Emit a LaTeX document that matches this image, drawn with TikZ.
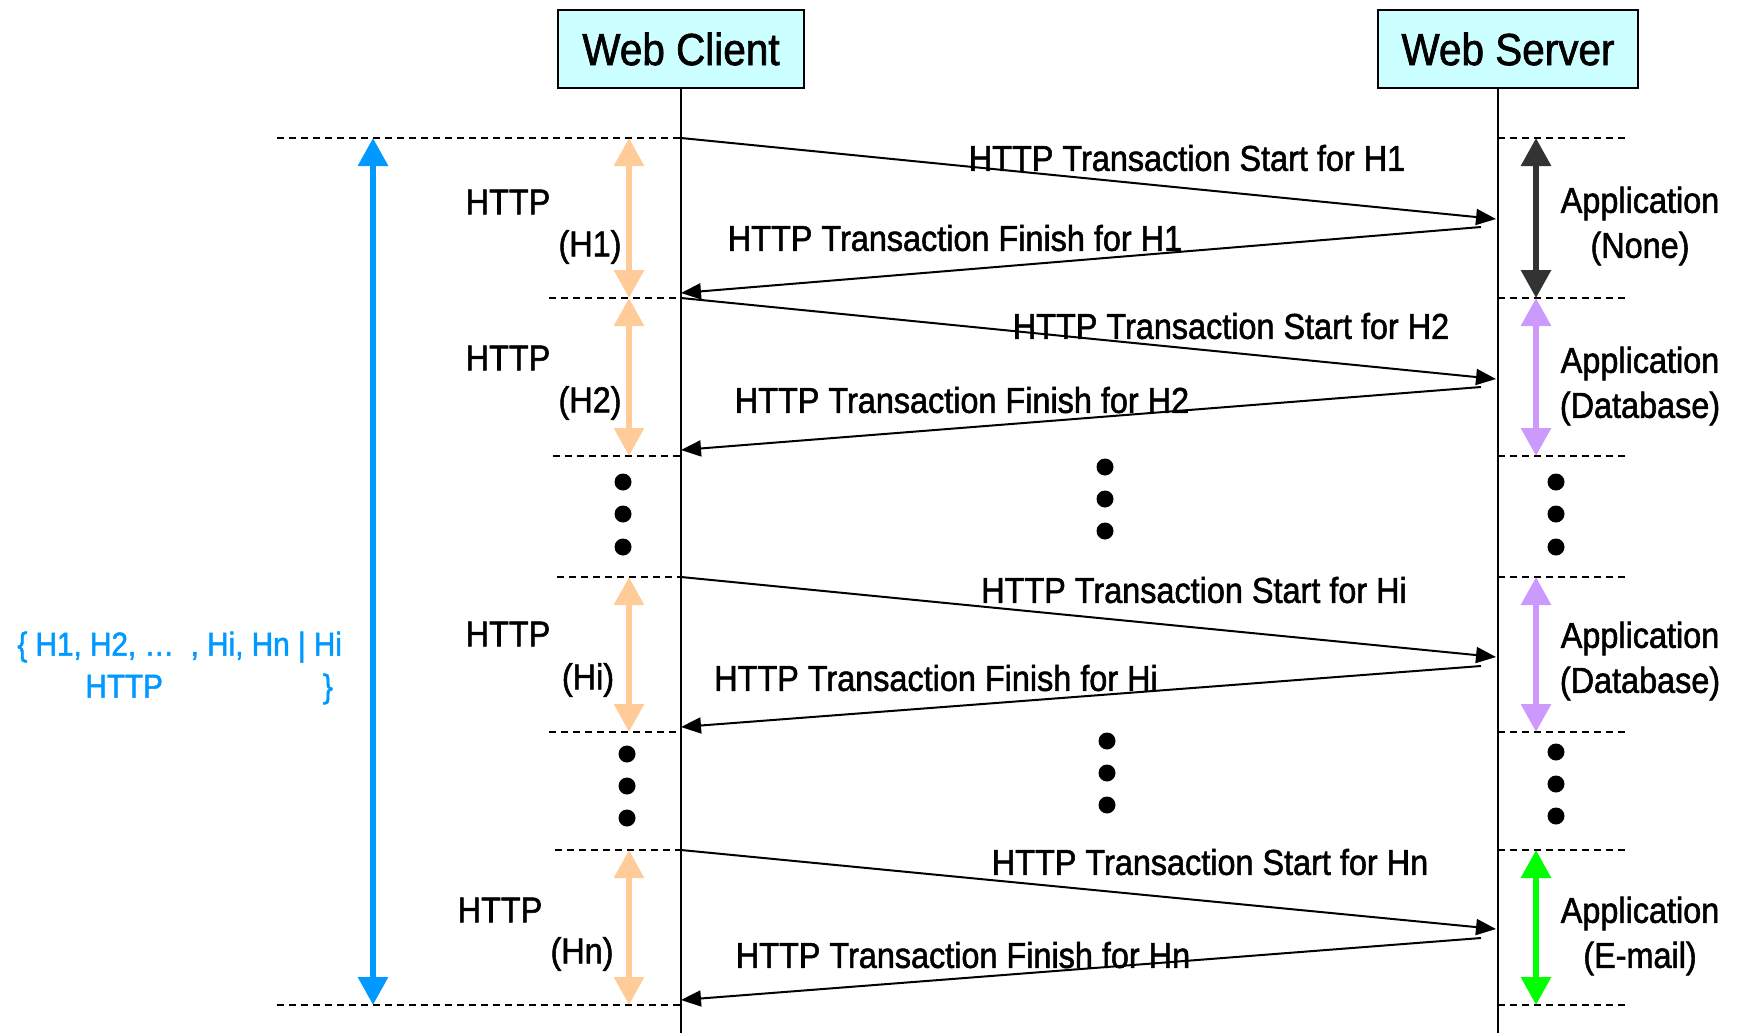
\documentclass[tikz,border=0pt]{standalone}
\usepackage{fontspec}
\setmainfont{Liberation Sans}[FakeStretch=0.9, FakeBold=1.5]
\usetikzlibrary{arrows.meta}
\definecolor{boxcyan}{HTML}{CCFFFF}
\definecolor{peach}{HTML}{FFCC99}
\definecolor{lilac}{HTML}{CC99FF}
\definecolor{skyblue}{HTML}{0099FF}
\definecolor{darkgrey}{HTML}{333333}
\definecolor{brightgreen}{HTML}{00FF00}

\begin{document}
\begin{tikzpicture}[x=0.5pt,y=-0.5pt,
	font=\fontsize{18}{22.5}\selectfont,
	entity/.style={draw, line width=1pt, fill=boxcyan, minimum height=39pt, font=\fontsize{22.5}{27}\selectfont},
	life/.style={line width=1pt},
	divider/.style={dash pattern=on 3.5pt off 2.5pt, line width=0.75pt},
	msg/.style={line width=1pt, -{Triangle[length=10pt,width=8pt]}},
	bar/.style={line width=3pt, {Triangle[length=14pt,width=14.5pt]}-{Triangle[length=14pt,width=14.5pt]}},
	blob/.style={circle, fill=black, inner sep=0pt, minimum size=8.5pt},
	lbl/.style={inner sep=0pt},
	app/.style={align=center, inner sep=0pt}]
	\useasboundingbox (0,0) rectangle (1738,1033);
	\node[entity, minimum width=123pt] (wc) at (681,49) {Web Client};
	\node[entity, minimum width=130pt] (ws) at (1508,49) {Web Server};
	\coordinate (cb) at (681,1033);
	\coordinate (sb) at (1498,1033);
	\draw[life] (wc) -- (cb);
	\draw[life] (ws.south -| sb) -- (sb);
		\coordinate (l1) at (277,138);
		\coordinate (l2) at (549,298);
		\coordinate (l3) at (553,456);
		\coordinate (l4) at (557,577);
		\coordinate (l5) at (549,732);
		\coordinate (l6) at (555,850);
		\coordinate (l7) at (277,1005);
		\coordinate (rx) at (1625,0);
	\draw[divider] (l1) -- (l1 -| cb);
	\draw[divider] (l2) -- (l2 -| cb);
	\draw[divider] (l3) -- (l3 -| cb);
	\draw[divider] (l4) -- (l4 -| cb);
	\draw[divider] (l5) -- (l5 -| cb);
	\draw[divider] (l6) -- (l6 -| cb);
	\draw[divider] (l7) -- (l7 -| cb);
	\draw[divider] (l1 -| sb) -- (l1 -| rx);
	\draw[divider] (l2 -| sb) -- (l2 -| rx);
	\draw[divider] (l3 -| sb) -- (l3 -| rx);
	\draw[divider] (l4 -| sb) -- (l4 -| rx);
	\draw[divider] (l5 -| sb) -- (l5 -| rx);
	\draw[divider] (l6 -| sb) -- (l6 -| rx);
	\draw[divider] (l7 -| sb) -- (l7 -| rx);
		\coordinate (s1) at (1496,219);
		\coordinate (f1) at (1481,227);
		\coordinate (e1) at (681,293);
		\coordinate (s2) at (1496,379);
		\coordinate (f2) at (1481,387);
		\coordinate (e2) at (681,450);
		\coordinate (s3) at (1496,657);
		\coordinate (f3) at (1481,666);
		\coordinate (e3) at (681,727);
		\coordinate (s4) at (1496,929);
		\coordinate (f4) at (1481,938);
		\coordinate (e4) at (681,1000);
	\draw[msg] (l1 -| cb) -- (s1);
	\draw[msg] (f1) -- (e1);
	\draw[msg] (l2 -| cb) -- (s2);
	\draw[msg] (f2) -- (e2);
	\draw[msg] (l4 -| cb) -- (s3);
	\draw[msg] (f3) -- (e3);
	\draw[msg] (l6 -| cb) -- (s4);
	\draw[msg] (f4) -- (e4);
	\node[lbl] (st1) at (1187,158) {HTTP Transaction Start for H1};
	\node[lbl] (fi1) at (955,238) {HTTP Transaction Finish for H1};
	\node[lbl] (st2) at (1231,326) {HTTP Transaction Start for H2};
	\node[lbl] (fi2) at (962,400) {HTTP Transaction Finish for H2};
	\node[lbl] (st3) at (1194,590) {HTTP Transaction Start for Hi};
	\node[lbl] (fi3) at (936,678) {HTTP Transaction Finish for Hi};
	\node[lbl] (st4) at (1210,862) {HTTP Transaction Start for Hn};
	\node[lbl] (fi4) at (963,955) {HTTP Transaction Finish for Hn};
		\coordinate (bx) at (373,0);
		\coordinate (hx) at (629,0);
		\coordinate (ax) at (1536,0);
	\draw[bar, skyblue] (bx |- l1) -- (bx |- l7);
	\draw[bar, peach] (hx |- l1) -- (hx |- l2);
	\draw[bar, peach] (hx |- l2) -- (hx |- l3);
	\draw[bar, peach] (hx |- l4) -- (hx |- l5);
	\draw[bar, peach] (hx |- l6) -- (hx |- l7);
	\draw[bar, darkgrey] (ax |- l1) -- (ax |- l2);
	\draw[bar, lilac] (ax |- l2) -- (ax |- l3);
	\draw[bar, lilac] (ax |- l4) -- (ax |- l5);
	\draw[bar, brightgreen] (ax |- l6) -- (ax |- l7);
	\node[lbl] (h1) at (508,202) {HTTP};
	\node[lbl] (n1) at (590,247) {(H1)};
	\node[lbl] (h2) at (508,358) {HTTP};
	\node[lbl] (n2) at (590,403) {(H2)};
	\node[lbl] (h3) at (508,634) {HTTP};
	\node[lbl] (n3) at (588,680) {(Hi)};
	\node[lbl] (h4) at (500,910) {HTTP};
	\node[lbl] (n4) at (582,954) {(Hn)};
	\node[app] (a1) at (1640,226) {Application\\(None)};
	\node[app] (a2) at (1640,386) {Application\\(Database)};
	\node[app] (a3) at (1640,661) {Application\\(Database)};
	\node[app] (a4) at (1640,936) {Application\\(E-mail)};
	\node[lbl, anchor=west, align=left, text=skyblue, font=\fontsize{16.5}{21}\selectfont] (set) at (17,668)
		{\{ H1, H2, …\ \ , Hi, Hn | Hi\\\hspace*{34pt}HTTP\hspace{80pt}\}};
	\node[blob] (d1) at (623,482) {};
	\node[blob] (d2) at (623,514) {};
	\node[blob] (d3) at (623,547) {};
	\node[blob] (d4) at (627,754) {};
	\node[blob] (d5) at (627,786) {};
	\node[blob] (d6) at (627,818) {};
	\node[blob] (d7) at (1105,467) {};
	\node[blob] (d8) at (1105,499) {};
	\node[blob] (d9) at (1105,531) {};
	\node[blob] (d10) at (1107,741) {};
	\node[blob] (d11) at (1107,773) {};
	\node[blob] (d12) at (1107,805) {};
	\node[blob] (d13) at (1556,482) {};
	\node[blob] (d14) at (1556,514) {};
	\node[blob] (d15) at (1556,547) {};
	\node[blob] (d16) at (1556,752) {};
	\node[blob] (d17) at (1556,784) {};
	\node[blob] (d18) at (1556,816) {};
\end{tikzpicture}
\end{document}
